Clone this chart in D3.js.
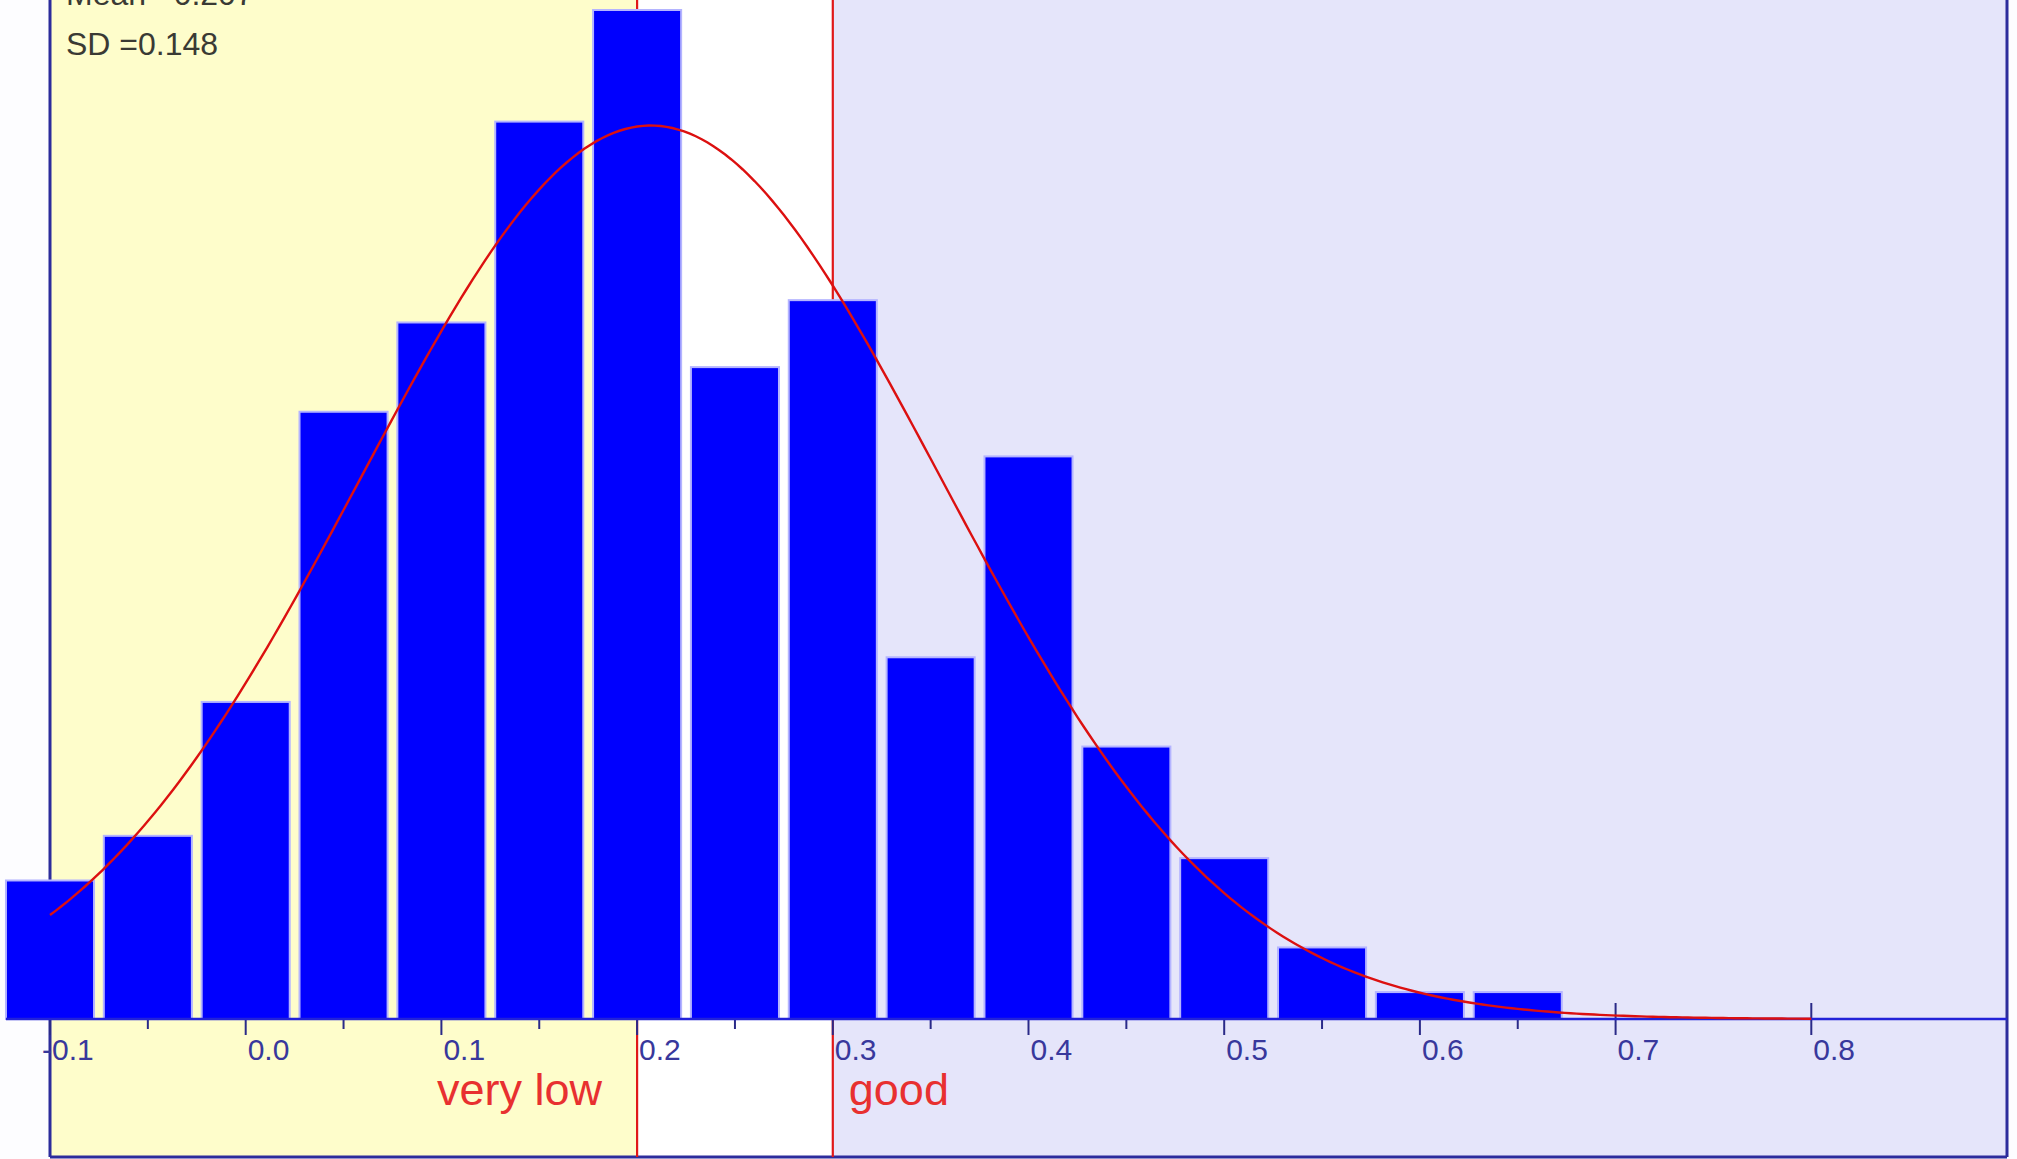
<!DOCTYPE html>
<html>
<head>
<meta charset="utf-8">
<script src="https://cdn.jsdelivr.net/npm/d3@7"></script>
<style>
  html, body { margin: 0; padding: 0; background: #ffffff; overflow: hidden; }
  svg { display: block; }
  text { font-family: "Liberation Sans", Arial, Helvetica, sans-serif; }
</style>
</head>
<body>
<svg id="chart" width="2017" height="1159"></svg>
<script>
// Histogram bins (centre of each bin) and the number of cases in each
const binCenters = [-0.1, -0.05, 0.0, 0.05, 0.1, 0.15, 0.2, 0.25, 0.3, 0.35, 0.4, 0.45, 0.5, 0.55, 0.6, 0.65];
const binCounts  = [6, 8, 14, 27, 31, 40, 45, 29, 32, 16, 25, 12, 7, 3, 1, 1];
const binWidth = 0.05;

// Axis ticks
const majorTicks = [-0.1, 0.0, 0.1, 0.2, 0.3, 0.4, 0.5, 0.6, 0.7, 0.8];
const tickLabels = ["-0.1", "0.0", "0.1", "0.2", "0.3", "0.4", "0.5", "0.6", "0.7", "0.8"];
const minorTicks = [-0.05, 0.05, 0.15, 0.25, 0.35, 0.45, 0.55, 0.65];

// Rating bands and their limits
const bandStarts = [-0.1, 0.2, 0.3];
const bandEnds   = [0.2, 0.3, 0.9];
const bandNames  = ["very low", "", "good"];
const bandFills  = ["#fefdcb", "#ffffff", "#e5e5fa"];
const thresholds = [0.2, 0.3];

// Summary statistics of the distribution
const meanValue = 0.207;
const sdValue = 0.148;
const curveFrom = -0.1;
const curveTo = 0.8;

// ---- layout ----
const W = 2017, H = 1159;
const plotLeft = 50, plotRight = 2007, plotBottom = 1157;
const axisY = 1019;
const barLift = 4.6;

const svg = d3.select("#chart");

const x = d3.scaleLinear().domain([-0.1, 0.9]).range([plotLeft, plotRight]);
const y = d3.scaleLinear().domain([0, 45]).range([axisY, axisY - 45 * 22.32]);

// page background
svg.append("rect").attr("x", 0).attr("y", 0).attr("width", W).attr("height", H).attr("fill", "#fdfdff");

// coloured bands
svg.append("g").selectAll("rect")
  .data(bandStarts.map((s, i) => ({ s, e: bandEnds[i], fill: bandFills[i] })))
  .join("rect")
  .attr("x", d => x(d.s))
  .attr("y", 0)
  .attr("width", d => x(d.e) - x(d.s))
  .attr("height", plotBottom)
  .attr("fill", d => d.fill);

// frame
const frame = svg.append("g").attr("stroke", "#2c2c9c").attr("stroke-width", 3).attr("fill", "none");
frame.append("line").attr("x1", plotLeft).attr("x2", plotLeft).attr("y1", 0).attr("y2", plotBottom);
frame.append("line").attr("x1", plotRight).attr("x2", plotRight).attr("y1", 0).attr("y2", plotBottom);
frame.append("line").attr("x1", plotLeft).attr("x2", plotRight).attr("y1", plotBottom).attr("y2", plotBottom);

// threshold lines
svg.append("g").selectAll("line")
  .data(thresholds)
  .join("line")
  .attr("x1", d => x(d)).attr("x2", d => x(d))
  .attr("y1", 0).attr("y2", plotBottom)
  .attr("stroke", "#e01818")
  .attr("stroke-width", 2.2);

// ticks (drawn behind the bars)
const ticks = svg.append("g").attr("stroke", "#2a2a88").attr("stroke-width", 2);
ticks.selectAll("line.major")
  .data(majorTicks)
  .join("line")
  .attr("class", "major")
  .attr("x1", d => x(d)).attr("x2", d => x(d))
  .attr("y1", axisY - 16).attr("y2", axisY + 16);
ticks.selectAll("line.minor")
  .data(minorTicks)
  .join("line")
  .attr("class", "minor")
  .attr("x1", d => x(d)).attr("x2", d => x(d))
  .attr("y1", axisY).attr("y2", axisY + 10);

// histogram bars
const barW = x(binWidth * 0.9) - x(0);
svg.append("g").selectAll("rect")
  .data(binCenters.map((c, i) => ({ c, n: binCounts[i] })))
  .join("rect")
  .attr("x", d => x(d.c) - barW / 2)
  .attr("y", d => y(d.n) - barLift)
  .attr("width", barW)
  .attr("height", d => axisY - y(d.n) + barLift)
  .attr("fill", "#0000fe")
  .attr("stroke", "#b4b4ff")
  .attr("stroke-width", 2);

// x axis line
svg.append("line")
  .attr("x1", x(binCenters[0]) - barW / 2)
  .attr("x2", plotRight)
  .attr("y1", axisY).attr("y2", axisY)
  .attr("stroke", "#2222d8")
  .attr("stroke-width", 2.5);

// tick labels
svg.append("g").selectAll("text")
  .data(majorTicks)
  .join("text")
  .attr("x", d => x(d) + 2)
  .attr("y", 1060)
  .attr("dx", (d, i) => tickLabels[i].startsWith("-") ? -10 : 0)
  .attr("font-size", 30)
  .attr("fill", "#38389c")
  .text((d, i) => tickLabels[i]);

// fitted normal curve, scaled to the histogram
const total = d3.sum(binCounts);
const pdf = v => Math.exp(-0.5 * Math.pow((v - meanValue) / sdValue, 2)) / (sdValue * Math.sqrt(2 * Math.PI));
const curvePts = d3.range(0, 301).map(k => curveFrom + (curveTo - curveFrom) * k / 300);
svg.append("path")
  .datum(curvePts)
  .attr("fill", "none")
  .attr("stroke", "#dc1010")
  .attr("stroke-width", 2.4)
  .attr("d", d3.line().x(v => x(v)).y(v => y(total * binWidth * pdf(v))));

// band names
svg.append("text")
  .attr("x", x(thresholds[0]) - 35)
  .attr("y", 1105)
  .attr("text-anchor", "end")
  .attr("font-size", 45)
  .attr("fill", "#e83030")
  .text(bandNames[0]);
svg.append("text")
  .attr("x", x(thresholds[1]) + 16)
  .attr("y", 1105)
  .attr("text-anchor", "start")
  .attr("font-size", 45)
  .attr("fill", "#e83030")
  .text(bandNames[2]);

// statistics
const statsG = svg.append("g").attr("font-size", 32).attr("fill", "#3a3a34");
statsG.append("text").attr("x", 66).attr("y", 5).text("Mean =" + meanValue.toFixed(3));
statsG.append("text").attr("x", 66).attr("y", 55).text("SD =" + sdValue.toFixed(3));
</script>
</body>
</html>
